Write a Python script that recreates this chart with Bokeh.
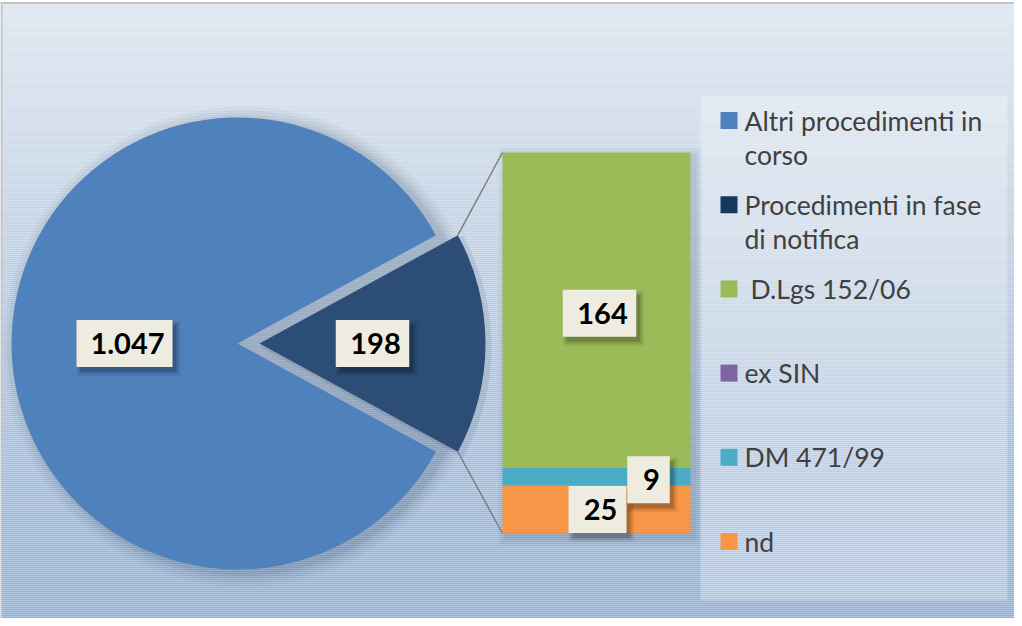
import numpy as np
from bokeh.plotting import figure
from bokeh.models import Range1d
from bokeh.core.properties import value
from bokeh.embed import file_html
from bokeh.resources import INLINE

# ---------------- data ----------------
pie_labels = ["Altri procedimenti in corso", "Procedimenti in fase di notifica"]
pie_values = [1047, 198]
bar_labels = ["D.Lgs 152/06", "ex SIN", "DM 471/99", "nd"]
bar_values = [164, 0, 9, 25]
legend_labels = ["Altri procedimenti in\ncorso", "Procedimenti in fase\ndi notifica",
                 "D.Lgs 152/06", "ex SIN", "DM 471/99", "nd"]

pie_colors = ["#4f81bd", "#2c4d75"]
bar_colors = ["#9bbb59", "#8064a2", "#4bacc6", "#f79646"]
legend_colors = ["#4f81bd", "#17375e", "#9bbb59", "#8064a2", "#4bacc6", "#f79646"]

W, H = 1014, 618
def Y(img_y):
    return 626 - np.asarray(img_y, dtype=float)

def fmt(v):
    return f"{v:,}".replace(",", ".")

p = figure(width=W, height=H, x_range=Range1d(8, 8 + W), y_range=Range1d(626 - 8 - H, 618),
           output_backend="svg", toolbar_location=None, min_border=0)
p.axis.visible = False
p.grid.visible = False
p.outline_line_color = None
p.background_fill_color = "white"
p.border_fill_color = "white"

# ---------------- background gradient ----------------
top_c = np.array([221, 231, 242])
bot_c = np.array([148, 178, 215])
ys = np.arange(10, 626, 2)
t = (ys - 10) / (626 - 10)
cols = ["#%02x%02x%02x" % tuple((top_c + (bot_c - top_c) * tt).astype(int)) for tt in t]
p.quad(left=8, right=8 + W, top=Y(ys), bottom=Y(ys + 2), fill_color=cols, line_color=None)
p.line(x=[8, 8 + W], y=list(Y([10.5, 10.5])), line_color="#c4c4c4", line_width=2)
p.line(x=[9, 9], y=list(Y([10, 626])), line_color="#c4c4c4", line_width=2)

# ---------------- pie ----------------
cx, cy, R = 245, 351, 226
explode = 22
total = sum(pie_values)
span = 2 * np.pi * pie_values[1] / total

# soft shadow
for k, a in [(14, 0.04), (10, 0.05), (6, 0.06), (3, 0.07)]:
    p.circle(x=cx + 6, y=Y(cy + 3), radius=R + k, fill_color="#1f3552", fill_alpha=a, line_color=None)
p.wedge(x=cx + explode, y=Y(cy + 3), radius=R + 6, start_angle=-span / 2, end_angle=span / 2,
        fill_color="#1f3552", fill_alpha=0.10, line_color=None)

p.wedge(x=cx, y=Y(cy), radius=R, start_angle=span / 2, end_angle=2 * np.pi - span / 2,
        fill_color=pie_colors[0], line_color=None)
p.wedge(x=cx + explode, y=Y(cy), radius=R, start_angle=-span / 2, end_angle=span / 2,
        fill_color=pie_colors[1], line_color=None)

# ---------------- bar of pie ----------------
bx0, bx1, btop, bbot = 510, 698, 160, 541
bsum = sum(bar_values)
scale = (bbot - btop) / bsum
stack_vals = bar_values[::-1]
stack_cols = bar_colors[::-1]
bottoms = bbot - np.concatenate([[0], np.cumsum(stack_vals)[:-1]]) * scale
tops = bottoms - np.array(stack_vals) * scale

for k, a in [(8, 0.04), (5, 0.05), (2, 0.07)]:
    p.quad(left=bx0 - k + 4, right=bx1 + k + 4, top=Y(btop - k + 4), bottom=Y(bbot + k + 4),
           fill_color="#1f3552", fill_alpha=a, line_color=None)
p.quad(left=bx0, right=bx1, top=Y(tops), bottom=Y(bottoms), fill_color=stack_cols, line_color=None)

# connector lines
ex = cx + explode + R * np.cos(span / 2)
ey = R * np.sin(span / 2)
p.line(x=[ex, bx0], y=list(Y([cy - ey, btop])), line_color="#7f7f7f", line_width=1.5)
p.line(x=[ex, bx0], y=list(Y([cy + ey, bbot])), line_color="#7f7f7f", line_width=1.5)

# ---------------- data labels ----------------
lab_x, lab_y, lab_t = [], [], []
lab_x.append(cx - 0.5 * R); lab_y.append(cy); lab_t.append(fmt(pie_values[0]))
lab_x.append(cx + explode + 0.5 * R); lab_y.append(cy); lab_t.append(fmt(pie_values[1]))
bar_mid = (bx0 + bx1) / 2
seg_centers = dict(zip(bar_labels[::-1], (tops + bottoms) / 2))
label_shift = {"D.Lgs 152/06": (3, 3), "DM 471/99": (52, 3), "nd": (1, 0)}
for lab, v in zip(bar_labels, bar_values):
    if v == 0:
        continue
    dx, dy = label_shift[lab]
    lab_x.append(bar_mid + dx); lab_y.append(seg_centers[lab] + dy); lab_t.append(fmt(v))

lab_x = np.array(lab_x); lab_y = np.array(lab_y)
widths = np.array([27 + 15.5 * sum(c.isdigit() for c in s) + 7 * s.count(".") for s in lab_t])
bh = 47
for k, a in [(4, 0.06), (2, 0.10), (0, 0.16)]:
    p.rect(x=lab_x + 4, y=Y(lab_y + 5), width=widths + 2 * k, height=bh + 2 * k,
           fill_color="black", fill_alpha=a, line_color=None)
p.rect(x=lab_x, y=Y(lab_y), width=widths, height=bh, fill_color="#eeece1", line_color=None)
p.text(x=lab_x + 3, y=Y(lab_y), text=lab_t, text_font=value("Lato"), text_font_style="bold",
       text_font_size="29px", text_color="black", text_align="center", text_baseline="middle")

# ---------------- legend ----------------
p.quad(left=708, right=1015, top=Y(103), bottom=Y(608), fill_color="white", fill_alpha=0.28,
       line_color=None)
row_y = 128 + 84.2 * np.arange(len(legend_labels))
p.rect(x=736.5, y=Y(row_y), width=17, height=17, fill_color=legend_colors, line_color=None)
tx, ty, tt = [], [], []
for i, lab in enumerate(legend_labels):
    for j, line in enumerate(lab.split("\n")):
        tx.append(752 + (6 if lab.startswith("D.Lgs") else 0)); ty.append(row_y[i] + 34 * j); tt.append(line)
p.text(x=tx, y=Y(ty), text=tt, text_font=value("Lato"), text_font_size="26.5px",
       text_color="#404040", text_align="left", text_baseline="middle")

open("out.html", "w").write(file_html(p, INLINE))
